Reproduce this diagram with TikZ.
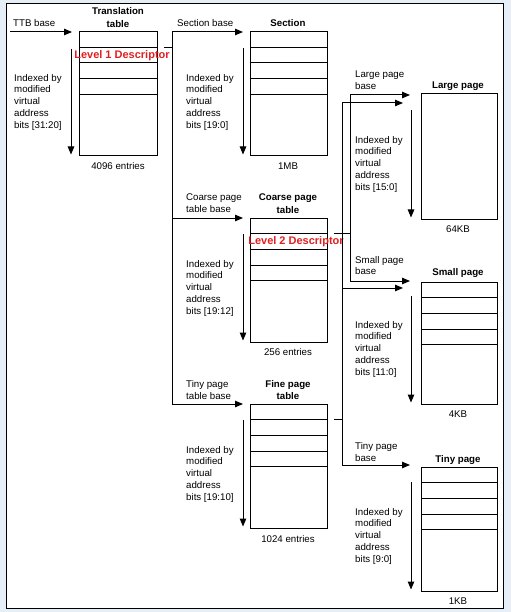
\documentclass[tikz,border=0pt]{standalone}
\usepackage{fontspec}
\setmainfont{Liberation Sans}
\usetikzlibrary{arrows.meta}
\definecolor{bgblue}{HTML}{E6EEF8}
\definecolor{descred}{HTML}{E02020}
\begin{document}
\begin{tikzpicture}[x=1pt,y=-1pt,
  tbl/.style={draw, line width=1pt, minimum width=77pt, minimum height=124pt, anchor=north west, inner sep=0pt, outer sep=0pt},
  lbl/.style={font=\fontsize{9.7}{11.75}\selectfont, inner sep=0pt, align=left, anchor=west},
  ttl/.style={font=\fontsize{9.7}{12.5}\bfseries\selectfont, inner sep=0pt, align=center},
  capt/.style={font=\fontsize{9.7}{11.75}\selectfont, inner sep=0pt},
  desc/.style={font=\fontsize{11}{13}\bfseries\selectfont, text=descred, inner sep=0pt},
  arr/.style={line width=1pt, -{Triangle[length=8pt,width=6.5pt]}},
  ln/.style={line width=1pt}]
\useasboundingbox (0,0) rectangle (511,612);
\fill[bgblue] (0,0) rectangle (511,612);
\draw[fill=white, line width=1.2pt] (6.5,3.5) rectangle (503.5,608.5);

% tables
\node[tbl, minimum width=78pt] (tt) at (79,32) {};
\node[tbl] (sec) at (250,32) {};
\node[tbl] (cpt) at (250,218) {};
\node[tbl] (fpt) at (250,404) {};
\node[tbl, minimum width=76pt, minimum height=125pt] (lp) at (421,94) {};
\node[tbl, minimum width=76pt, minimum height=122pt] (sp) at (421,282) {};
\node[tbl, minimum width=76pt] (tp) at (421,467) {};

\foreach \t in {tt,sec,cpt,fpt,sp,tp}{
  \foreach \d in {15.5,31,47,62.5}{
    \draw[ln] ([yshift=-\d pt]\t.north west) -- ([yshift=-\d pt]\t.north east);
  }
}

% titles
\node[ttl] (ttT) at (118,17.5) {Translation\\table};
\node[ttl] (secT) at (288,23) {Section};
\node[ttl] (cptT) at (288,203.5) {Coarse page\\table};
\node[ttl] (fptT) at (288,390) {Fine page\\table};
\node[ttl] (lpT) at (458,86) {Large page};
\node[ttl] (spT) at (458,273) {Small page};
\node[ttl] (tpT) at (458,460) {Tiny page};

% captions
\node[capt] (ttC) at (118,166) {4096 entries};
\node[capt] (secC) at (288,166) {1MB};
\node[capt] (cptC) at (288,352) {256 entries};
\node[capt] (fptC) at (288,539) {1024 entries};
\node[capt] (lpC) at (458,229) {64KB};
\node[capt] (spC) at (458,414) {4KB};
\node[capt] (tpC) at (458,601) {1KB};

% base labels
\node[lbl] (ttbL) at (13,23) {TTB base};
\node[lbl] (secL) at (177,23) {Section base};
\node[lbl] (cptL) at (186,203.5) {Coarse page\\table base};
\node[lbl] (fptL) at (186,390) {Tiny page\\table base};
\node[lbl] (lpL) at (355,80.5) {Large page\\base};
\node[lbl] (spL) at (355,265.5) {Small page\\base};
\node[lbl] (tpL) at (355,452) {Tiny page\\base};

% index labels
\node[lbl] (ttI) at (14,102) {Indexed by\\modified\\virtual\\address\\bits [31:20]};
\node[lbl] (secI) at (186,102) {Indexed by\\modified\\virtual\\address\\bits [19:0]};
\node[lbl] (cptI) at (186,288) {Indexed by\\modified\\virtual\\address\\bits [19:12]};
\node[lbl] (fptI) at (186,474) {Indexed by\\modified\\virtual\\address\\bits [19:10]};
\node[lbl] (lpI) at (355,164) {Indexed by\\modified\\virtual\\address\\bits [15:0]};
\node[lbl] (spI) at (355,349) {Indexed by\\modified\\virtual\\address\\bits [11:0]};
\node[lbl] (tpI) at (355,536) {Indexed by\\modified\\virtual\\address\\bits [9:0]};

% index arrows
\draw[arr] ([xshift=-8pt,yshift=-17pt]tt.north west) -- ([xshift=-8pt,yshift=1.5pt]tt.south west);
\draw[arr] ([xshift=-7pt,yshift=-16pt]sec.north west) -- ([xshift=-7pt,yshift=1.5pt]sec.south west);
\draw[arr] ([xshift=-7pt,yshift=-16pt]cpt.north west) -- ([xshift=-7pt,yshift=1.5pt]cpt.south west);
\draw[arr] ([xshift=-7pt,yshift=-16pt]fpt.north west) -- ([xshift=-7pt,yshift=1.5pt]fpt.south west);
\draw[arr] ([xshift=-10pt,yshift=-16pt]lp.north west) -- ([xshift=-10pt,yshift=1.5pt]lp.south west);
\draw[arr] ([xshift=-10pt,yshift=-14pt]sp.north west) -- ([xshift=-10pt,yshift=1.5pt]sp.south west);
\draw[arr] ([xshift=-10pt,yshift=-15pt]tp.north west) -- ([xshift=-10pt,yshift=1.5pt]tp.south west);

% descriptor labels
\node[desc] (d1) at (122,55.5) {Level 1 Descriptor};
\node[desc] (d2) at (296,242) {Level 2 Descriptor};

% TTB
\coordinate (ttbin) at (10,32);
\draw[arr, shorten >=7pt] (ttbin) -- (tt.north west);

% bus A
\coordinate (aTop) at (172,32);
\coordinate (aBot) at (172,404);
\coordinate (tt1) at ([yshift=-15.5pt]tt.north east);
\draw[ln] (aTop) -- (aBot);
\draw[ln] ([xshift=7pt]tt1) -- (tt1 -| aTop);
\draw[arr, shorten >=7pt] (aTop) -- (sec.north west);
\draw[arr, shorten >=7pt] (aTop |- cpt.north west) -- (cpt.north west);
\draw[arr, shorten >=7pt] (aBot) -- (fpt.north west);

% bus B (coarse)
\coordinate (bTop) at (350,95);
\coordinate (bBot) at (350,281);
\coordinate (c1) at ([yshift=-15.5pt]cpt.north east);
\coordinate (lpA) at (421,95);
\coordinate (spA) at (421,281);
\draw[ln] (bTop) -- (bBot);
\draw[ln] ([xshift=7pt]c1) -- (c1 -| bTop);
\draw[arr, shorten >=11pt] (bTop) -- (lpA);
\draw[arr, shorten >=11pt] (bBot) -- (spA);

% bus C (fine)
\coordinate (cTop) at (342,103);
\coordinate (cBot) at (342,465);
\coordinate (f1) at ([yshift=-15.5pt]fpt.north east);
\coordinate (lpB) at (421,103);
\coordinate (spB) at (421,288);
\coordinate (tpA) at (421,465);
\draw[ln] (cTop) -- (cBot);
\draw[ln] ([xshift=7pt]f1) -- (f1 -| cTop);
\draw[arr, shorten >=18pt] (cTop) -- (lpB);
\draw[arr, shorten >=18pt] (cTop |- spB) -- (spB);
\draw[arr, shorten >=11pt] (cBot) -- (tpA);
\end{tikzpicture}
\end{document}
